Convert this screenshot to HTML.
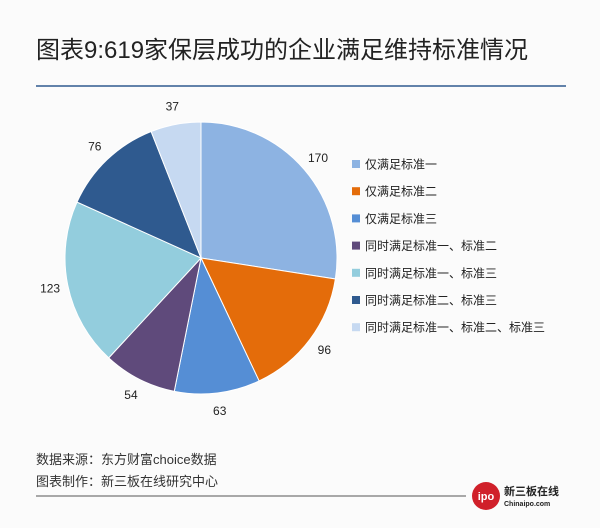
<!DOCTYPE html>
<html><head><meta charset="utf-8">
<style>
body{margin:0;background:#fafafa;font-family:"Liberation Sans","Noto Sans CJK SC",sans-serif;}
#root{position:relative;width:600px;height:528px;overflow:hidden;background:#fbfbfb;}
</style></head>
<body>
<div id="root">
<svg width="600" height="528">
<text x="36" y="58" font-size="24" fill="#222" font-family="Liberation Sans,Noto Sans CJK SC,sans-serif">图表9:619家保层成功的企业满足维持标准情况</text>
<line x1="36" y1="86" x2="566" y2="86" stroke="#2f5a8f" stroke-width="1.5"/>
<g id="pie"></g>
<g id="legend"></g>
<text x="36" y="464" font-size="13" fill="#333">数据来源：东方财富choice数据</text>
<text x="36" y="486" font-size="13" fill="#333">图表制作：新三板在线研究中心</text>
<line x1="36" y1="496" x2="466" y2="496" stroke="#555" stroke-width="1"/>
<g>
<circle cx="486" cy="496" r="14" fill="#d0202a"/>
<text x="486" y="500" font-size="11" font-weight="bold" fill="#fff" text-anchor="middle">ipo</text>
<text x="504" y="495" font-size="11" font-weight="bold" fill="#222">新三板在线</text>
<text x="504" y="506" font-size="7" font-weight="bold" fill="#222">Chinaipo.com</text>
</g>
</svg>
</div>
<script>
const categories=["仅满足标准一","仅满足标准二","仅满足标准三","同时满足标准一、标准二","同时满足标准一、标准三","同时满足标准二、标准三","同时满足标准一、标准二、标准三"];
const values=[170,96,63,54,123,76,37];
const colors=["#8db3e2","#e46c0a","#558ed5","#5f4a7b","#93cddd","#2f5a8f","#c6d9f1"];
const NS="http://www.w3.org/2000/svg";
const cx=201,cy=258,r=136;
const total=values.reduce((a,b)=>a+b,0);
const pie=document.getElementById('pie');
let a0=0;
function pt(a,rad){return [cx+rad*Math.sin(a),cy-rad*Math.cos(a)];}
values.forEach((v,i)=>{
  const a1=a0+v/total*2*Math.PI;
  const [x0,y0]=pt(a0,r),[x1,y1]=pt(a1,r);
  const p=document.createElementNS(NS,'path');
  p.setAttribute('d',`M${cx},${cy}L${x0},${y0}A${r},${r} 0 ${a1-a0>Math.PI?1:0} 1 ${x1},${y1}Z`);
  p.setAttribute('fill',colors[i]);p.setAttribute('stroke','#fff');p.setAttribute('stroke-width','1');
  
  
  pie.appendChild(p);
  const [lx,ly]=pt((a0+a1)/2,r+18);
  const t=document.createElementNS(NS,'text');
  t.setAttribute('x',lx);t.setAttribute('y',ly+4);t.setAttribute('text-anchor','middle');
  t.setAttribute('font-size','12');t.setAttribute('fill','#222');t.textContent=v;
  
  
  pie.appendChild(t);
  a0=a1;
});
const lg=document.getElementById('legend');
categories.forEach((c,i)=>{
  const y=164+i*27.2;
  const s=document.createElementNS(NS,'rect');
  s.setAttribute('x',352);s.setAttribute('y',y-4);s.setAttribute('width',8);s.setAttribute('height',8);s.setAttribute('fill',colors[i]);
  
  
  lg.appendChild(s);
  const t=document.createElementNS(NS,'text');
  t.setAttribute('x',365);t.setAttribute('y',y+4.5);t.setAttribute('font-size','12');t.setAttribute('fill','#222');t.textContent=c;
  
  
  lg.appendChild(t);
});
</script>
</body></html>
